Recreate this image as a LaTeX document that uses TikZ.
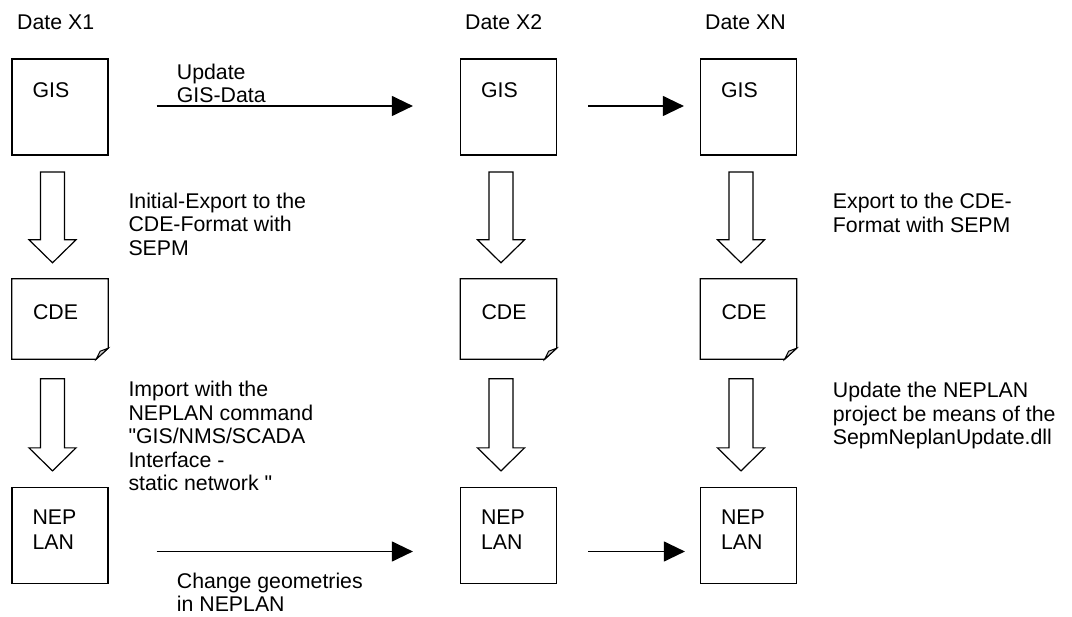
\documentclass[tikz,border=0pt]{standalone}
\usepackage{fontspec}
\setmainfont{Liberation Sans}[Ligatures=TeXOff]
\usetikzlibrary{arrows.meta,calc}

\tikzset{
  box/.style={draw, line width=1.2pt, inner sep=0pt, minimum width=96pt, minimum height=96pt},
  doc/.style={inner sep=0pt, minimum width=96pt, minimum height=80pt},
  txt/.style={anchor=base west, inner sep=0pt, align=left},
  flow/.style={line width=1.2pt, -{Triangle[length=21pt,width=20pt]}},
  fat/.style={line width=1.2pt, fill=white},
}

% hollow block arrow: from, to, gap below the upper box
\newcommand\fatarrow[3]{%
  \draw[fat] let \p1=(#1.south), \p2=(#2.north) in
    (\x1-19.5pt,\y1-#3) -- (\x1-19.5pt,\y2+39pt) -- (\x1-31pt,\y2+39pt)
    -- (\x1-7.5pt,\y2+16pt) -- (\x1+16pt,\y2+39pt) -- (\x1+4.5pt,\y2+39pt)
    -- (\x1+4.5pt,\y1-#3) -- cycle;}

\begin{document}
\begin{tikzpicture}[x=1pt,y=-1pt,font=\fontsize{21.3}{23.5}\selectfont]
  \useasboundingbox (0,0) rectangle (1072,617);
  % Geometry
  \def\xA{60}
  \def\xB{508.5}
  \def\xC{748.5}
  % Dates
  \node[txt] (d1) at (17,29.5) {Date X1};
  \node[txt] (d2) at (465,29.5) {Date X2};
  \node[txt] (d3) at (705,29.5) {Date XN};
  % Boxes
  \foreach \c/\x in {1/\xA,2/\xB,3/\xC}{
    \node[box] (gis\c) at (\x,107) {};
    \node[doc] (cde\c) at (\x,319) {};
    \node[box] (nep\c) at (\x,535.5) {};
  }
  \foreach \c in {1,2,3}{
    \node[txt] (lgis\c) at ($(gis\c.north west)+(21,38.7)$) {GIS};
    \node[txt] (lcde\c) at ($(cde\c.north west)+(21,40.3)$) {CDE};
    % base of a multi-line node = last line
    \node[txt] (lnep\c) at ($(nep\c.north west)+(21,63)$) {NEP\\[2pt]LAN};
    % CDE file with folded corner
    \draw[line width=1.2pt] (cde\c.north west) -- (cde\c.north east)
      -- ($(cde\c.south east)+(0,-11)$) -- ($(cde\c.south east)+(-12,0)$)
      -- (cde\c.south west) -- cycle;
    \filldraw[line width=1pt, fill=gray!40] ($(cde\c.south east)+(0,-11)$)
      -- ($(cde\c.south east)+(-12,0)$) -- ($(cde\c.south east)+(-8,-8)$) -- cycle;
    % Export / import steps
    \fatarrow{gis\c}{cde\c}{16.5pt}
    \fatarrow{cde\c}{nep\c}{19.5pt}
  }
  % Updates between dates
  \draw[flow] ([xshift=48pt,yshift=1pt]gis1.east) -- ([xshift=-47pt,yshift=1pt]gis2.west);
  \draw[flow] ([xshift=31pt,yshift=1pt]gis2.east) -- ([xshift=-16pt,yshift=1pt]gis3.west);
  \draw[flow] ([xshift=48pt,yshift=-16pt]nep1.east) -- ([xshift=-47pt,yshift=-16pt]nep2.west);
  \draw[flow] ([xshift=31pt,yshift=-16pt]nep2.east) -- ([xshift=-15pt,yshift=-16pt]nep3.west);
  % Labels
  \node[txt] (upd) at (176.7,102.8) {Update\\GIS-Data};
  \node[txt] (exp1) at (128.3,255.3) {Initial-Export to the\\CDE-Format with\\SEPM};
  \node[txt] (imp) at (128.3,491) {Import with the\\NEPLAN command\\"GIS/NMS/SCADA\\Interface -\\static network "};
  \node[txt] (chg) at (176.7,611.8) {Change geometries\\in NEPLAN};
  \node[txt] (exp3) at (832.7,232.5) {Export to the CDE-\\Format with SEPM};
  \node[txt] (updn) at (832.7,444.7) {Update the NEPLAN\\project be means of the\\SepmNeplanUpdate.dll};
\end{tikzpicture}
\end{document}
